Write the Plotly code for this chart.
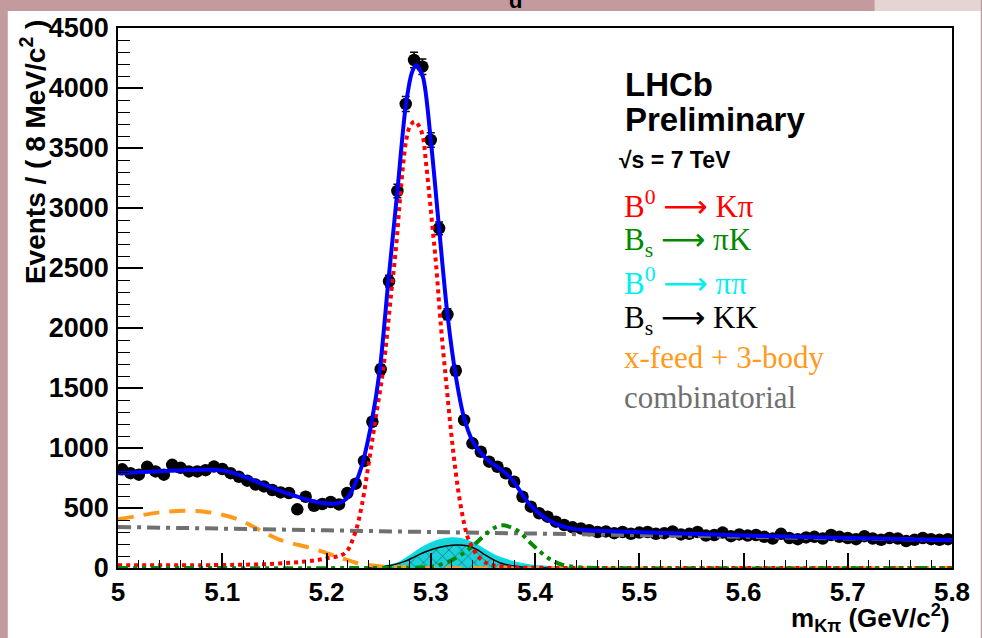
import numpy as np
import plotly.graph_objects as go

# ---------------- data ----------------
bin_centers = [round(5.004 + 0.008 * i, 3) for i in range(100)]
events = [822, 790, 778, 843, 805, 778, 860, 835, 805, 805,
          815, 845, 825, 790, 760, 728, 695, 680, 650, 630,
          625, 489, 594, 519, 533, 550, 530, 625, 703, 892,
          1219, 1656, 2390, 3142, 3867, 4233, 4178, 3567, 2831, 2114,
          1644, 1233, 1039, 969, 886, 844, 789, 719, 594, 511,
          456, 428, 386, 358, 339, 330, 315, 300, 305, 290,
          300, 285, 295, 300, 285, 290, 305, 280, 285, 300,
          270, 275, 295, 265, 280, 270, 275, 260, 245, 285,
          250, 240, 255, 260, 245, 275, 260, 250, 240, 265,
          245, 235, 250, 245, 225, 235, 250, 240, 235, 240]
errors = np.sqrt(np.array(events, dtype=float))

total_x = [5.000, 5.020, 5.040, 5.060, 5.080, 5.095, 5.105, 5.115, 5.130, 5.150,
           5.170, 5.185, 5.200, 5.212, 5.220, 5.227, 5.2336, 5.2431, 5.2511, 5.259,
           5.268, 5.276, 5.282, 5.286, 5.2924, 5.300, 5.308, 5.316, 5.324, 5.332,
           5.340, 5.348, 5.356, 5.364, 5.372, 5.380, 5.388, 5.396, 5.404, 5.412,
           5.420, 5.428, 5.436, 5.445, 5.460, 5.500, 5.600, 5.700, 5.800]
total_y = [790, 798, 806, 813, 818, 816, 805, 780, 730, 660,
           600, 560, 538, 540, 585, 690, 844, 1208, 1650, 2360,
           3142, 3850, 4130, 4192, 4094, 3567, 2831, 2114, 1600, 1250,
           1060, 960, 890, 840, 790, 715, 610, 520, 455, 405,
           368, 343, 328, 318, 310, 298, 270, 250, 232]

b0kpi_x = [5.000, 5.100, 5.150, 5.180, 5.200, 5.2178, 5.2273, 5.2336, 5.2400, 5.2464,
           5.2543, 5.2622, 5.2670, 5.2702, 5.2733, 5.2765, 5.2800, 5.2845, 5.2890, 5.2924,
           5.2955, 5.2988, 5.3019, 5.3050, 5.3098, 5.3146, 5.3193, 5.3241, 5.3289, 5.3352,
           5.3400, 5.3460, 5.3550, 5.3700, 5.4000, 5.5000, 5.8000]
b0kpi_y = [22, 25, 35, 55, 80, 125, 290, 510, 844, 1208,
           1650, 2300, 2700, 3042, 3344, 3567, 3680, 3720, 3680, 3594,
           3375, 3094, 2817, 2539, 2011, 1567, 1150, 789, 511, 261,
           170, 90, 35, 10, 2, 0, 0]

bspik_x = [5.000, 5.250, 5.290, 5.300, 5.310, 5.320, 5.330, 5.340, 5.350, 5.360,
           5.368, 5.375, 5.385, 5.395, 5.405, 5.415, 5.425, 5.440, 5.460, 5.800]
bspik_y = [0, 0, 4, 10, 30, 65, 115, 180, 260, 330,
           355, 345, 300, 215, 135, 70, 30, 8, 0, 0]

b0pipi_x = [5.240, 5.260, 5.270, 5.280, 5.290, 5.300, 5.310, 5.320, 5.330, 5.340,
            5.350, 5.360, 5.370, 5.380, 5.390, 5.400, 5.420, 5.450]
b0pipi_y = [0, 20, 45, 100, 160, 205, 235, 248, 240, 210,
            160, 110, 75, 48, 30, 16, 6, 0]

bskk_x = [5.240, 5.255, 5.265, 5.275, 5.285, 5.295, 5.305, 5.315, 5.325, 5.335,
          5.345, 5.352, 5.360, 5.370, 5.385, 5.400, 5.420]
bskk_y = [0, 12, 28, 55, 95, 135, 165, 183, 192, 185,
          150, 110, 70, 33, 10, 3, 0]

xfeed_x = [5.000, 5.015, 5.046, 5.083, 5.115, 5.137, 5.154, 5.189, 5.212, 5.230,
           5.250, 5.280, 5.300, 5.800]
xfeed_y = [405, 428, 469, 469, 406, 311, 239, 156, 89, 40,
           15, 5, 0, 0]

comb_x = [5.0, 5.1, 5.2, 5.3, 5.4, 5.5, 5.6, 5.7, 5.8]
comb_y = [342, 328, 314, 300, 287, 274, 260, 246, 232]

x_ticks = [5.0, 5.1, 5.2, 5.3, 5.4, 5.5, 5.6, 5.7, 5.8]
x_ticklabels = ["5", "5.1", "5.2", "5.3", "5.4", "5.5", "5.6", "5.7", "5.8"]
y_ticks = [0, 500, 1000, 1500, 2000, 2500, 3000, 3500, 4000, 4500]

ARROW = "<span style='font-family:DejaVu Sans'>⟶</span>"
legend_lines = [
    ("B<sup>0</sup> " + ARROW + " Kπ", "#ff0000"),
    ("B<sub>s</sub> " + ARROW + " πK", "#008a00"),
    ("B<sup>0</sup> " + ARROW + " ππ", "#00f0f0"),
    ("B<sub>s</sub> " + ARROW + " KK", "#000000"),
    ("x-feed + 3-body", "#ff9a1a"),
    ("combinatorial", "#707070"),
]

# ---------------- figure ----------------
W, H = 982, 638
L, R, T, B = 118, 24, 28, 70
PW, PH = W - L - R, H - T - B


def px2x(px):
    return (px - L) / PW


def py2y(py):
    return (H - B - py) / PH


fig = go.Figure()

fig.add_trace(go.Scatter(
    x=bin_centers, y=events, mode="markers",
    marker=dict(color="black", size=12.5, symbol="circle"),
    error_y=dict(type="data", array=errors, color="black", thickness=1.5, width=4),
    showlegend=False))

fig.add_trace(go.Scatter(
    x=b0pipi_x, y=b0pipi_y, mode="lines", fill="tozeroy",
    fillcolor="#1cd2da", line=dict(color="#00e0e8", width=2, shape="spline"),
    showlegend=False))

fig.add_trace(go.Scatter(
    x=bskk_x, y=bskk_y, mode="lines", fill="tozeroy",
    fillcolor="rgba(0,0,0,0)",
    fillpattern=dict(shape="x", fgcolor="black", bgcolor="rgba(0,0,0,0)",
                     size=9, solidity=0.15),
    line=dict(color="black", width=1.5, shape="spline"),
    showlegend=False))

fig.add_trace(go.Scatter(
    x=xfeed_x, y=xfeed_y, mode="lines",
    line=dict(color="#ff9a1a", width=4, dash="16px,10px", shape="spline"),
    showlegend=False))

fig.add_trace(go.Scatter(
    x=comb_x, y=comb_y, mode="lines",
    line=dict(color="#707070", width=4, dash="13px,6px,4px,6px", shape="spline"),
    showlegend=False))

fig.add_trace(go.Scatter(
    x=b0kpi_x, y=b0kpi_y, mode="lines",
    line=dict(color="#ff0000", width=4, dash="4px,4px", shape="spline"),
    showlegend=False))

fig.add_trace(go.Scatter(
    x=bspik_x, y=bspik_y, mode="lines",
    line=dict(color="#008a00", width=4, dash="10px,5px,4px,5px,4px,5px", shape="spline"),
    showlegend=False))

fig.add_trace(go.Scatter(
    x=total_x, y=total_y, mode="lines",
    line=dict(color="#0000ff", width=4, shape="spline", smoothing=0.8),
    showlegend=False))

y_tick_font = dict(family="Liberation Sans", size=27, color="black", weight="bold")
x_tick_font = dict(family="Liberation Sans", size=26, color="black", weight="bold")

fig.update_xaxes(
    range=[5.0, 5.8], tickvals=x_ticks, ticktext=x_ticklabels,
    ticks="inside", ticklen=15, tickwidth=1.5, tickcolor="black",
    minor=dict(ticks="inside", ticklen=8, dtick=0.02, tick0=5.0, tickwidth=1.2, tickcolor="black"),
    showline=True, linecolor="black", linewidth=1.5, mirror=True,
    showgrid=False, zeroline=False, tickfont=x_tick_font, ticklabelstandoff=0)

fig.update_yaxes(
    range=[0, 4500], tickvals=y_ticks,
    ticks="inside", ticklen=25, tickwidth=1.5, tickcolor="black",
    minor=dict(ticks="inside", ticklen=12, dtick=100, tick0=0, tickwidth=1.2, tickcolor="black"),
    showline=True, linecolor="black", linewidth=1.5, mirror=True,
    showgrid=False, zeroline=False, tickfont=y_tick_font, ticklabelstandoff=2)

shapes = [
    dict(type="rect", xref="paper", yref="paper", layer="below",
         x0=px2x(7), x1=px2x(W + 5), y0=py2y(H + 5), y1=py2y(11),
         fillcolor="white", line=dict(width=0)),
    dict(type="rect", xref="paper", yref="paper", layer="below",
         x0=px2x(880), x1=px2x(W + 5), y0=py2y(11), y1=py2y(-5),
         fillcolor="#e6d3d4", line=dict(width=0)),
]

annotations = [
    dict(text="Events / ( 8 MeV/c<sup>2</sup> )", xref="paper", yref="paper",
         x=px2x(32), y=py2y(17), xanchor="center", yanchor="top", textangle=-90,
         showarrow=False, font=dict(family="Liberation Sans", size=28, color="black", weight="bold")),
    dict(text="m<sub>Kπ</sub> (GeV/c<sup>2</sup>)", xref="paper", yref="paper",
         x=px2x(958), y=py2y(618), xanchor="right", yanchor="middle",
         showarrow=False, font=dict(family="Liberation Sans", size=26, color="black", weight="bold")),
    dict(text="LHCb", xref="paper", yref="paper", x=px2x(627), y=py2y(85),
         xanchor="left", yanchor="middle", showarrow=False,
         font=dict(family="Liberation Sans", size=33, color="black", weight="bold")),
    dict(text="Preliminary", xref="paper", yref="paper", x=px2x(627), y=py2y(119),
         xanchor="left", yanchor="middle", showarrow=False,
         font=dict(family="Liberation Sans", size=33, color="black", weight="bold")),
    dict(text="√s = 7 TeV", xref="paper", yref="paper", x=px2x(621), y=py2y(160),
         xanchor="left", yanchor="middle", showarrow=False,
         font=dict(family="Liberation Sans", size=23, color="black", weight="bold")),
    dict(text="d", xref="paper", yref="paper", x=px2x(518), y=py2y(15),
         xanchor="center", yanchor="bottom", showarrow=False,
         font=dict(family="Liberation Sans", size=22, color="black", weight="bold")),
]

legend_centers = [204, 242, 281, 319, 357, 397]
for (txt, col), cy in zip(legend_lines, legend_centers):
    annotations.append(dict(
        text=txt, xref="paper", yref="paper", x=px2x(626), y=py2y(cy),
        xanchor="left", yanchor="middle", showarrow=False,
        font=dict(family="Liberation Serif", size=31, color=col)))

fig.update_layout(
    width=W, height=H, autosize=False,
    margin=dict(l=L, r=R, t=T, b=B),
    paper_bgcolor="#c39a9d", plot_bgcolor="rgba(0,0,0,0)",
    shapes=shapes, annotations=annotations, showlegend=False)

fig.write_html("out.html")
